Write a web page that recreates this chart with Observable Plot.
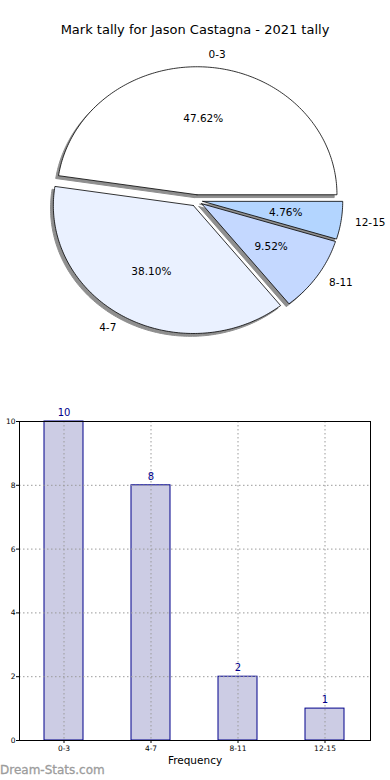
<!DOCTYPE html>
<html>
<head>
<meta charset="utf-8">
<script src="https://cdn.jsdelivr.net/npm/d3@7"></script>
<script src="https://cdn.jsdelivr.net/npm/@observablehq/plot@0.6"></script>
<style>
  html, body { margin: 0; padding: 0; background: #fff; }
  body { width: 390px; height: 780px; position: relative; overflow: hidden; font-family: "DejaVu Sans", sans-serif; }
  #title { position: absolute; top: 22px; left: 0; width: 390px; text-align: center; font-size: 13px; line-height: 16px; color: #000; }
  #pie { position: absolute; top: 40px; left: 0; }
  #bar { position: absolute; top: 400px; left: 0; }
  #xlab { position: absolute; top: 753px; left: 0; width: 390px; text-align: center; font-size: 10.5px; line-height: 14px; color: #000; }
  #wm { position: absolute; left: 0; top: 762px; font-size: 12px; color: #9c9c9c; line-height: 16px; -webkit-text-stroke: 0.3px #9c9c9c; }
</style>
</head>
<body>
<div id="title">Mark tally for Jason Castagna - 2021 tally</div>
<div id="pie"></div>
<div id="bar"></div>
<div id="xlab"></div>
<div id="wm">Dream-Stats.com</div>
<script>
// ---- data ----
const categories = ["0-3", "4-7", "8-11", "12-15"];
const counts = [10, 8, 2, 1];
const yTicks = [0, 2, 4, 6, 8, 10];
const xLabel = "Frequency";

// ---- styles ----
const wedgeColors = ["#ffffff", "#eaf1ff", "#c4d8ff", "#b3d5ff"];
const explode = 0.045;
const shadowDx = -0.02, shadowDy = -0.022;

document.getElementById("xlab").textContent = xLabel;

const total = d3.sum(counts);
let acc = 0;
const wedges = categories.map((c, i) => {
  const a0 = acc;
  const a1 = acc + counts[i] / total * 2 * Math.PI;
  acc = a1;
  const mid = (a0 + a1) / 2;
  const cx = explode * Math.cos(mid), cy = explode * Math.sin(mid);
  const pts = [{x: cx, y: cy}];
  const n = Math.max(4, Math.ceil((a1 - a0) / (Math.PI / 180)));
  for (let k = 0; k <= n; k++) {
    const t = a0 + (a1 - a0) * k / n;
    pts.push({x: cx + Math.cos(t), y: cy + Math.sin(t)});
  }
  pts.push({x: cx, y: cy});
  return {cat: c, count: counts[i], mid, cx, cy, pts, color: wedgeColors[i]};
});

const labelPts = wedges.map(w => ({
  x: w.cx + 1.1 * Math.cos(w.mid), y: w.cy + 1.1 * Math.sin(w.mid), text: w.cat
}));
const pctPts = wedges.map(w => ({
  x: w.cx + 0.6 * Math.cos(w.mid), y: w.cy + 0.6 * Math.sin(w.mid),
  text: (w.count / total * 100).toFixed(2) + "%"
}));

const pieMarks = [];
wedges.forEach(w => {
  pieMarks.push(Plot.line(w.pts.map(p => ({x: p.x + shadowDx, y: p.y + shadowDy})),
    {x: "x", y: "y", fill: "#8f8f8f", stroke: "#8f8f8f", strokeWidth: 1}));
});
wedges.forEach(w => {
  pieMarks.push(Plot.line(w.pts, {x: "x", y: "y", fill: w.color, stroke: "#000", strokeWidth: 0.8}));
});
pieMarks.push(Plot.text(labelPts.filter(d => d.x > 0), {x: "x", y: "y", text: "text", textAnchor: "start", fontSize: 10.5}));
pieMarks.push(Plot.text(labelPts.filter(d => d.x <= 0), {x: "x", y: "y", text: "text", textAnchor: "end", fontSize: 10.5}));
pieMarks.push(Plot.text(pctPts, {x: "x", y: "y", text: "text", fontSize: 10.5}));

const pie = Plot.plot({
  width: 390, height: 310, margin: 0,
  style: {fontFamily: "DejaVu Sans", background: "transparent"},
  x: {domain: [-1, 1], range: [56, 336], axis: null},
  y: {domain: [-1, 1], range: [288, 32], axis: null},
  marks: pieMarks
});
document.getElementById("pie").appendChild(pie);

// ---- bar chart ----
const barData = categories.map((c, i) => ({cat: c, count: counts[i]}));
const bar = Plot.plot({
  width: 390, height: 370,
  marginTop: 21, marginBottom: 30, marginLeft: 19, marginRight: 20,
  style: {fontFamily: "DejaVu Sans", background: "transparent", color: "#000"},
  x: {domain: categories, paddingInner: 0.55, paddingOuter: 0.275, align: 0.5, label: null},
  y: {domain: [0, 10], label: null},
  marks: [
    Plot.barY(barData, {x: "cat", y: "count", fill: "#ccccE4", stroke: "#00008b", strokeWidth: 1}),
    Plot.ruleX(categories, {x: d => d, stroke: "#9a9a9a", strokeDasharray: "1.5,2.5", strokeWidth: 1}),
    Plot.ruleY(yTicks, {y: d => d, stroke: "#9a9a9a", strokeDasharray: "1.5,2.5", strokeWidth: 1}),
    Plot.frame({stroke: "#000", strokeWidth: 1}),
    Plot.axisX({tickSize: 3, tickPadding: 2, fontSize: 7.5, label: null}),
    Plot.axisY({ticks: yTicks, tickSize: 3, tickPadding: 1, fontSize: 7.5, label: null, tickFormat: d => String(d)}),
    Plot.text(barData, {x: "cat", y: "count", text: d => String(d.count), dy: -9, fill: "#00008b", fontSize: 10})
  ]
});
document.getElementById("bar").appendChild(bar);
</script>
</body>
</html>
